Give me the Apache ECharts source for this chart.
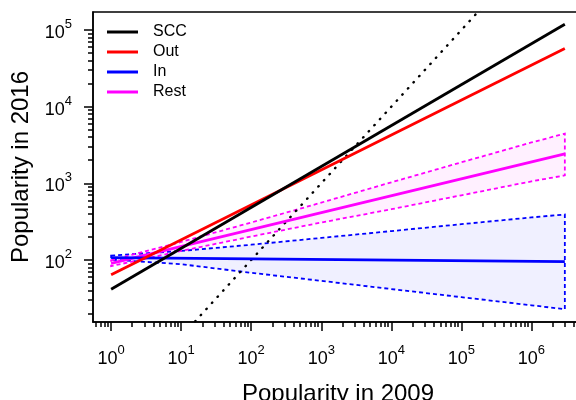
<!DOCTYPE html>
<html>
<head>
<meta charset="utf-8">
<script src="https://cdn.jsdelivr.net/npm/echarts@6/dist/echarts.min.js"></script>
<style>
html, body { margin: 0; padding: 0; background: #fff; }
#chart { width: 576px; height: 400px; }
</style>
</head>
<body>
<div id="chart"></div>
<script>
// fitted lines, read at x = 1 and x = 3e6
const lineX = [1, 3e6];
const sccY = [41.5, 119000];
const outY = [64, 57500];
const inY = [107, 95];
const restY = [90, 2430];

// confidence bands (dashed outlines)
const bandX = [1, 10, 100, 1e3, 1e4, 1e5, 1e6, 3e6];
const inUpper = [114, 131, 158, 194, 238, 293, 359, 392];
const inLower = [101, 88, 68, 53.4, 41.7, 32.7, 25.6, 22.8];
const restUpper = [99, 172, 308, 560, 1030, 1880, 3410, 4450];
const restLower = [83, 131, 202, 308, 459, 698, 1060, 1270];

// y = x reference line
const diagX = [1, 1e6];

const xMajor = [1, 10, 100, 1e3, 1e4, 1e5, 1e6];
const yMajor = [100, 1e3, 1e4, 1e5];

const xMin = 0.551, xMax = 5.45e6;
const yMin = 15.5, yMax = 1.72e5;

function minorTicks(lo, hi) {
  const out = [];
  for (let d = -1; d <= 7; d++) {
    for (let k = 2; k <= 9; k++) {
      const v = k * Math.pow(10, d);
      if (v > lo && v < hi) out.push(v);
    }
  }
  return out;
}
const xMinor = minorTicks(xMin, xMax);
const yMinor = minorTicks(yMin, yMax);

const font = '"Liberation Sans", Arial, Helvetica, sans-serif';
const powRich = {
  b: { fontSize: 18, fontFamily: font, color: '#000', lineHeight: 24, verticalAlign: 'bottom' },
  s: { fontSize: 13, fontFamily: font, color: '#000', lineHeight: 13, verticalAlign: 'top' }
};
function powLabel(v) {
  return '{b|10}{s|' + Math.round(Math.log10(v)) + '}';
}

function lineSeries(name, ys, color) {
  return {
    type: 'line',
    name: name,
    data: lineX.map((x, i) => [x, ys[i]]),
    symbol: 'none',
    lineStyle: { color: color, width: 2.8 },
    itemStyle: { color: color },
    z: 4
  };
}

function bandSeries(name, upper, lower, fill, stroke) {
  return {
    type: 'custom',
    name: name,
    silent: true,
    z: 2,
    data: bandX.map((x, i) => [x, lower[i], upper[i]]),
    encode: { x: 0, y: [1, 2] },
    renderItem: function (params, api) {
      if (params.dataIndex !== 0) return null;
      const pts = [];
      for (let i = 0; i < bandX.length; i++) pts.push(api.coord([bandX[i], upper[i]]));
      for (let i = bandX.length - 1; i >= 0; i--) pts.push(api.coord([bandX[i], lower[i]]));
      return {
        type: 'polygon',
        shape: { points: pts },
        style: { fill: fill, stroke: stroke, lineWidth: 1.8, lineDash: [4, 3] }
      };
    }
  };
}

const chart = echarts.init(document.getElementById('chart'));
chart.setOption({
  animation: false,
  backgroundColor: '#fff',
  grid: {
    left: 93, top: 12, right: -7, bottom: 78,
    outerBoundsMode: 'none', containLabel: false,
    show: true, borderColor: '#000', borderWidth: 1.5
  },
  legend: {
    data: ['SCC', 'Out', 'In', 'Rest'],
    orient: 'vertical',
    left: 107, top: 22,
    padding: 0, itemGap: 0,
    itemWidth: 31, itemHeight: 3,
    icon: 'rect',
    textStyle: { fontSize: 16, lineHeight: 20, fontFamily: font, color: '#000', padding: [0, 0, 0, 10] }
  },
  xAxis: [{
    type: 'log', min: xMin, max: xMax,
    name: 'Popularity in 2009', nameLocation: 'middle', nameGap: 60,
    nameTextStyle: { fontSize: 24, fontFamily: font, color: '#000' },
    axisLine: { lineStyle: { color: '#000', width: 1.5 } },
    axisTick: { customValues: xMajor, length: 9, lineStyle: { color: '#000', width: 1.5 } },
    axisLabel: { customValues: xMajor, margin: 22, formatter: powLabel, rich: powRich },
    splitLine: { show: false }
  }, {
    type: 'log', min: xMin, max: xMax, position: 'bottom',
    axisLine: { show: false },
    axisTick: { customValues: xMinor, length: 5, lineStyle: { color: '#000', width: 1.5 } },
    axisLabel: { show: false },
    splitLine: { show: false }
  }],
  yAxis: [{
    type: 'log', min: yMin, max: yMax,
    name: 'Popularity in 2016', nameLocation: 'middle', nameGap: 58,
    nameTextStyle: { fontSize: 24, fontFamily: font, color: '#000' },
    axisLine: { lineStyle: { color: '#000', width: 1.5 } },
    axisTick: { customValues: yMajor, length: 9, lineStyle: { color: '#000', width: 1.5 } },
    axisLabel: { customValues: yMajor, margin: 21, formatter: powLabel, rich: powRich },
    splitLine: { show: false }
  }, {
    type: 'log', min: yMin, max: yMax, position: 'left',
    axisLine: { show: false },
    axisTick: { customValues: yMinor, length: 5, lineStyle: { color: '#000', width: 1.5 } },
    axisLabel: { show: false },
    splitLine: { show: false }
  }],
  series: [
    bandSeries('inBand', inUpper, inLower, 'rgba(0,0,255,0.06)', '#0000ff'),
    bandSeries('restBand', restUpper, restLower, 'rgba(255,0,255,0.06)', '#ff00ff'),
    {
      type: 'line', name: 'diag',
      data: diagX.map(x => [x, x]),
      symbol: 'none', clip: true, z: 3,
      lineStyle: { color: '#000', width: 2.4, type: [0.5, 7.8], cap: 'round' }
    },
    lineSeries('Rest', restY, '#ff00ff'),
    lineSeries('In', inY, '#0000ff'),
    lineSeries('Out', outY, '#ff0000'),
    lineSeries('SCC', sccY, '#000000')
  ]
});
</script>
</body>
</html>
